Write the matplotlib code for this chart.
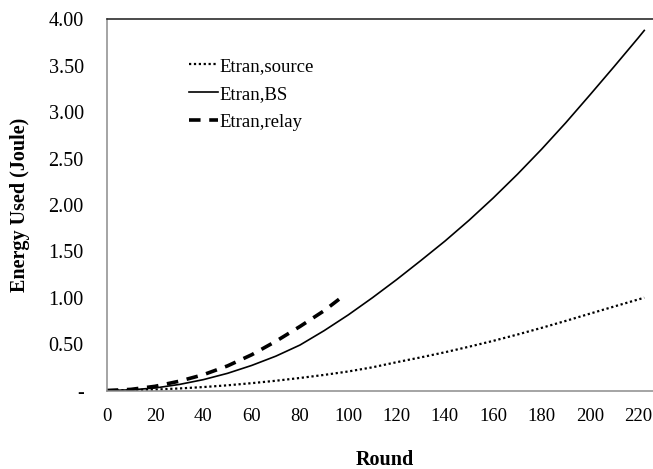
import numpy as np
import matplotlib
matplotlib.use('Agg')
import matplotlib.pyplot as plt

plt.rcParams['font.family'] = ['Liberation Serif', 'DejaVu Serif']

# values
ROUNDS = [0, 10, 20, 30, 40, 50, 60, 70, 80, 90, 100, 110, 120,
          130, 140, 150, 160, 170, 180, 190, 200, 210, 220, 222.5]
E_SOURCE = [0, 0.003, 0.010, 0.022, 0.037, 0.056, 0.079, 0.105, 0.135,
            0.168, 0.205, 0.250, 0.305, 0.357, 0.412, 0.472, 0.535,
            0.603, 0.675, 0.750, 0.828, 0.905, 0.981, 1.000]
E_BS = [0, 0.007, 0.027, 0.065, 0.117, 0.185, 0.270, 0.370, 0.490,
        0.645, 0.815, 1.000, 1.195, 1.400, 1.610, 1.835, 2.075, 2.330,
        2.600, 2.885, 3.185, 3.490, 3.800, 3.880]
ROUNDS_RELAY = [0, 10, 20, 30, 40, 50, 60, 70, 80, 90, 97]
E_RELAY = [0, 0.012, 0.045, 0.100, 0.170, 0.265, 0.385, 0.530, 0.690,
           0.860, 1.000]

Y_TICKS = [0, 0.5, 1.0, 1.5, 2.0, 2.5, 3.0, 3.5, 4.0]
X_TICKS = list(range(0, 221, 20))

fig = plt.figure(figsize=(6.53, 4.69), dpi=100)
ax = fig.add_axes([106.7/653, 78.5/469, 555.7/653, 371.2/469])

ax.plot(ROUNDS, E_SOURCE, color='black', lw=1.6, ls=(0, (1, 1.2)),
        label='Etran,source')
ax.plot(ROUNDS, E_BS, color='black', lw=1.2, ls='-', label='Etran,BS')
ax.plot(ROUNDS_RELAY, E_RELAY, color='black', lw=2.6, ls=(0, (3.2, 2.4)),
        label='Etran,relay')

ax.set_xlim(0, 230)
ax.set_ylim(0, 4.0)
ax.set_xticks(X_TICKS)
ax.set_xticklabels([str(t) for t in X_TICKS])
ax.set_yticks(Y_TICKS)
ax.set_yticklabels(['-'] + ['%.2f' % v for v in Y_TICKS[1:]])
ax.tick_params(axis='both', length=0)
ax.tick_params(axis='y', pad=16.5, labelsize=14.5)
ax.tick_params(axis='x', pad=12.5, labelsize=13.5)

for side in ['left', 'bottom']:
    ax.spines[side].set_color('#8c8c8c')
    ax.spines[side].set_linewidth(1.1)
ax.spines['top'].set_color('#1a1a1a')
ax.spines['top'].set_linewidth(1.1)
ax.spines['right'].set_visible(False)

ax.set_xlabel('Round', fontsize=14.5, fontweight='bold', labelpad=18)
ax.set_ylabel('Energy Used (Joule)', fontsize=14.5, fontweight='bold',
              labelpad=13)

ax.legend(loc='upper left', bbox_to_anchor=(0.1486, 0.897), frameon=False,
          fontsize=13.5, handlelength=1.55, handletextpad=0.08,
          labelspacing=0.58, borderpad=0, borderaxespad=0)

fig.savefig('out.png', dpi=100)
